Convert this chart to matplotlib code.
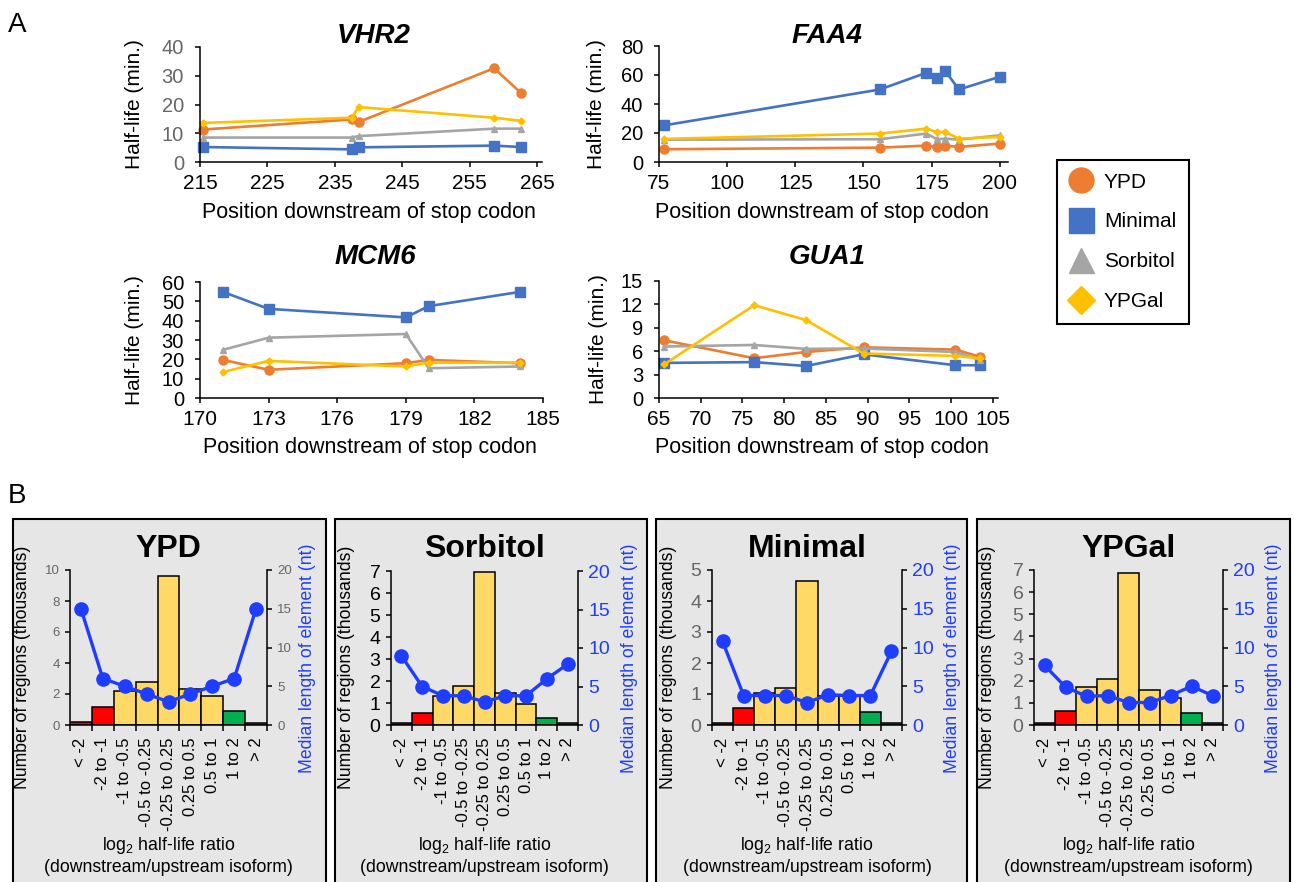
import matplotlib
matplotlib.use('Agg')
import matplotlib.pyplot as plt
import matplotlib.patches as patches
from matplotlib.lines import Line2D
import numpy as np

plt.rcParams['font.family'] = ['Liberation Sans', 'DejaVu Sans']
plt.rcParams['mathtext.fontset'] = 'custom'
plt.rcParams['mathtext.rm'] = 'Liberation Sans'
plt.rcParams['mathtext.default'] = 'regular'

W, H = 1294, 882

# Excel-like series colours
C_YPD = '#ED7D31'
C_MIN = '#4472C4'
C_SOR = '#A5A5A5'
C_GAL = '#FFC000'
BLUE = '#1F3DFF'
GREY_TXT = '#666666'

# ---- panel A data (half-life, min.)
vhr2_pos = [215.5, 237.5, 238.5, 258.6, 262.6]
vhr2_ypd = [11.3, 14.8, 13.9, 32.6, 24.0]
vhr2_min = [5.2, 4.4, 5.1, 5.7, 5.2]
vhr2_sor = [8.5, 8.5, 9.0, 11.6, 11.6]
vhr2_gal = [13.6, 15.4, 19.1, 15.4, 14.3]

faa4_pos = [77, 156, 173, 177, 180, 185, 200]
faa4_ypd = [8.8, 9.9, 11.3, 10.4, 11.3, 10.4, 12.7]
faa4_min = [25.3, 50.0, 61.5, 58.0, 62.7, 50.0, 58.8]
faa4_sor = [15.4, 15.7, 19.6, 15.7, 16.1, 15.4, 18.4]
faa4_gal = [15.9, 19.6, 23.0, 20.7, 20.7, 16.1, 17.3]

mcm6_pos = [171, 173, 179, 180, 184]
mcm6_ypd = [19.7, 14.6, 18.0, 19.7, 18.0]
mcm6_min = [54.9, 46.1, 41.7, 47.5, 54.9]
mcm6_sor = [24.9, 31.2, 33.1, 15.4, 16.3]
mcm6_gal = [13.4, 19.2, 16.3, 18.3, 18.3]

gua1_pos = [65.6, 76.4, 82.6, 89.5, 100.5, 103.4]
gua1_ypd = [7.4, 5.1, 5.9, 6.5, 6.2, 5.3]
gua1_min = [4.5, 4.6, 4.1, 5.6, 4.2, 4.2]
gua1_sor = [6.6, 6.8, 6.3, 6.35, 5.9, 4.9]
gua1_gal = [4.3, 11.9, 10.0, 5.7, 5.4, 5.1]

# ---- panel B data
bins = ['< -2', '-2 to -1', '-1 to -0.5', '-0.5 to -0.25', '-0.25 to 0.25',
        '0.25 to 0.5', '0.5 to 1', '1 to 2', '> 2']
bar_colors = ['#FF0000', '#FF0000', '#FFD966', '#FFD966', '#FFD966',
              '#FFD966', '#FFD966', '#00B050', '#00B050']

ypd_counts = [0.2, 1.14, 2.19, 2.8, 9.63, 2.32, 1.85, 0.92, 0.1]
ypd_len = [15, 6, 5, 4, 3, 4, 5, 6, 15]
sor_counts = [0.08, 0.56, 1.32, 1.79, 6.94, 1.47, 0.97, 0.33, 0.08]
sor_len = [9, 5, 3.8, 3.8, 3, 3.8, 3.8, 6, 7.9]
min_counts = [0.05, 0.54, 1.04, 1.18, 4.65, 0.93, 0.94, 0.41, 0.05]
min_len = [10.8, 3.8, 3.8, 3.8, 2.9, 3.9, 3.8, 3.8, 9.5]
gal_counts = [0.08, 0.65, 1.73, 2.06, 6.88, 1.56, 1.23, 0.56, 0.08]
gal_len = [7.7, 4.9, 3.7, 3.8, 2.9, 2.9, 3.8, 5, 3.8]

fig = plt.figure(figsize=(W / 100, H / 100), dpi=100, facecolor='white')


def px_axes(l, t, r, b):
    return fig.add_axes([l / W, 1 - b / H, (r - l) / W, (b - t) / H])


def ftext(x, y, s, **kw):
    return fig.text(x / W, 1 - y / H, s, **kw)


def line_panel(rect, title, tx, ty, pos, ypd, mn, sor, gal, xlim, xticks,
               ylim, yticks, ycol, ylab_x, xlab_y):
    ax = px_axes(*rect)
    ax.plot(pos, ypd, color=C_YPD, marker='o', ms=6.5, lw=1.9, clip_on=False)
    ax.plot(pos, mn, color=C_MIN, marker='s', ms=6.5, lw=1.9, clip_on=False)
    ax.plot(pos, sor, color=C_SOR, marker='^', ms=4, lw=1.9, clip_on=False)
    ax.plot(pos, gal, color=C_GAL, marker='D', ms=3.5, lw=1.9, clip_on=False)
    ax.set_xlim(*xlim)
    ax.set_ylim(*ylim)
    ax.set_xticks(xticks)
    ax.set_yticks(yticks)
    for s in ['top', 'right']:
        ax.spines[s].set_visible(False)
    for s in ['left', 'bottom']:
        ax.spines[s].set_linewidth(1.1)
    ax.tick_params(axis='x', direction='out', length=3.5, width=1.1,
                   labelsize=15, pad=5)
    ax.tick_params(axis='y', direction='out', length=3.5, width=1.1,
                   labelsize=14.5, pad=8, labelcolor=ycol)
    ax.patch.set_facecolor('none')
    ftext(tx, ty, title, ha='center', va='baseline', fontsize=20,
          fontweight='bold', fontstyle='italic')
    l, t, r, b = rect
    ftext(ylab_x, (t + b) / 2, 'Half-life (min.)', rotation=90,
          ha='center', va='center', fontsize=15)
    ftext(tx - 5, xlab_y, 'Position downstream of stop codon', ha='center',
          va='baseline', fontsize=15.5)
    return ax


line_panel((200, 47, 542, 162), 'VHR2', 374, 43, vhr2_pos, vhr2_ypd,
           vhr2_min, vhr2_sor, vhr2_gal, (215, 265.7), range(215, 266, 10),
           (0, 40), range(0, 41, 10), GREY_TXT, 135, 218)
line_panel((659, 46, 1008, 162), 'FAA4', 827, 43, faa4_pos, faa4_ypd,
           faa4_min, faa4_sor, faa4_gal, (75, 203), range(75, 201, 25),
           (0, 80), range(0, 81, 20), 'black', 597, 218)
line_panel((200, 282, 543, 398), 'MCM6', 375, 264, mcm6_pos, mcm6_ypd,
           mcm6_min, mcm6_sor, mcm6_gal, (170, 185), range(170, 186, 3),
           (0, 60), range(0, 61, 10), 'black', 135, 453)
line_panel((659, 281, 998, 398), 'GUA1', 827, 264, gua1_pos, gua1_ypd,
           gua1_min, gua1_sor, gua1_gal, (65, 105.6), range(65, 106, 5),
           (0, 15), range(0, 16, 3), 'black', 598, 453)

handles = [
    Line2D([], [], ls='none', marker='o', ms=18, color=C_YPD),
    Line2D([], [], ls='none', marker='s', ms=18, color=C_MIN),
    Line2D([], [], ls='none', marker='^', ms=18, color=C_SOR),
    Line2D([], [], ls='none', marker='D', ms=14, color=C_GAL),
]
leg = fig.legend(handles, ['YPD', 'Minimal', 'Sorbitol', 'YPGal'],
                 loc='upper left', bbox_to_anchor=(1057 / W, 1 - 160 / H),
                 fontsize=15, frameon=True, fancybox=False, framealpha=1,
                 edgecolor='black', borderpad=0.6, labelspacing=1.0,
                 handlelength=1.1, handletextpad=0.55, borderaxespad=0)
leg.get_frame().set_linewidth(1.5)

ftext(8, 32, 'A', fontsize=20, va='baseline')
ftext(8, 503, 'B', fontsize=20, va='baseline')


# ---- panel B
def hist_panel(box, rect, title, counts, lengths, ymax, ystep, lcol, rcol,
               tsize, llab_x, rlab_x):
    bl, br = box
    fig.patches.append(patches.Rectangle((bl / W, 1 - 890 / H), (br - bl) / W,
                                         (890 - 519) / H, transform=fig.transFigure,
                                         fc='#E6E6E6', ec='black', lw=1.5,
                                         zorder=-1))
    ax = px_axes(*rect)
    ax.patch.set_facecolor('none')
    x = np.arange(len(bins))
    ax.bar(x, counts, width=1.0, color=bar_colors, edgecolor='black',
           lw=1.1, zorder=2)
    ax.set_xlim(-0.5, len(bins) - 0.5)
    ax.set_ylim(0, ymax)
    ax.set_xticks(x)
    ax.set_xticklabels(bins)
    ax.set_xticks(np.arange(-0.5, len(bins), 1), minor=True)
    ax.tick_params(axis='x', which='major', length=0, pad=9,
                   labelsize=12, labelrotation=90)
    ax.tick_params(axis='x', which='minor', length=4.5, width=1.1,
                   direction='out')
    ax.set_yticks(np.arange(0, ymax + 0.01, ystep))
    ax.tick_params(axis='y', direction='out', length=3.5, width=1.1,
                   labelsize=tsize, labelcolor=lcol, pad=4)
    ax.spines['top'].set_visible(False)
    ax.spines['right'].set_visible(False)
    for s in ['left', 'bottom']:
        ax.spines[s].set_linewidth(1.1)

    ax2 = ax.twinx()
    ax2.plot(x, lengths, color=BLUE, marker='o', ms=9.5, lw=2.4,
             clip_on=False, zorder=3)
    ax2.set_ylim(0, 20)
    ax2.set_yticks(range(0, 21, 5))
    ax2.tick_params(axis='y', direction='out', length=3.5, width=1.1,
                    labelsize=tsize, labelcolor=rcol, pad=4)
    for s in ['top', 'left', 'bottom']:
        ax2.spines[s].set_visible(False)
    ax2.spines['right'].set_linewidth(1.1)

    l, t, r, b = rect
    cx = (l + r) / 2
    ftext(cx, 557, title, ha='center', va='baseline', fontsize=23,
          fontweight='bold')
    ftext(llab_x, 667, 'Number of regions (thousands)', rotation=90,
          ha='center', va='center', fontsize=12.7)
    ftext(rlab_x, 658, 'Median length of element (nt)', rotation=90,
          ha='center', va='center', fontsize=12.7, color=BLUE)
    ftext(cx, 846, 'log$_2$ half-life ratio', ha='center', va='center',
          fontsize=12.7)
    ftext(cx, 867, '(downstream/upstream isoform)', ha='center',
          va='center', fontsize=12.7)


hist_panel((13, 326), (70, 570, 267, 725), 'YPD', ypd_counts, ypd_len,
           10, 2, GREY_TXT, GREY_TXT, 9.5, 23, 308)
hist_panel((335, 647), (391, 571, 578, 725), 'Sorbitol', sor_counts, sor_len,
           7, 1, 'black', BLUE, 14, 347, 630)
hist_panel((656, 967), (712, 570, 902, 725), 'Minimal', min_counts, min_len,
           5, 1, GREY_TXT, BLUE, 14, 668, 952)
hist_panel((977, 1290), (1034, 570, 1223, 725), 'YPGal', gal_counts, gal_len,
           7, 1, GREY_TXT, BLUE, 14, 988, 1274)

fig.savefig('out.png', dpi=100)
